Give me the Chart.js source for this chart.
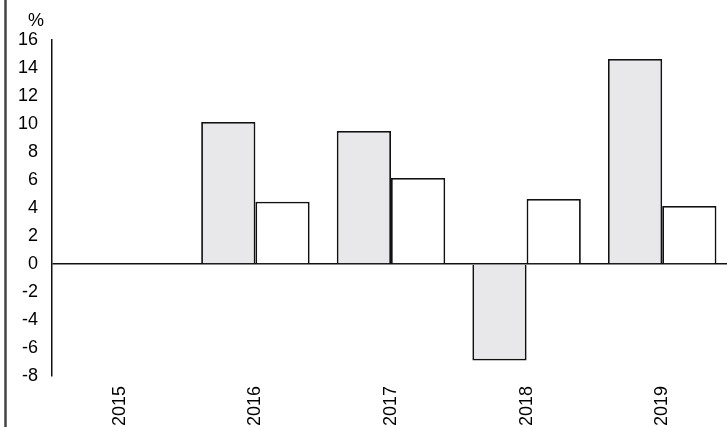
<!DOCTYPE html>
<html>
<head>
<meta charset="utf-8">
<script src="https://cdn.jsdelivr.net/npm/chart.js@4"></script>
<style>
  html, body { margin: 0; padding: 0; background: #fff; }
  #wrap { width: 727px; height: 427px; }
</style>
</head>
<body>
<div id="wrap"><canvas id="chart" width="727" height="427"></canvas></div>
<script>
const years = ['2015', '2016', '2017', '2018', '2019'];
const seriesGrey = [null, 10.15, 9.5, -6.9, 14.65];
const seriesWhite = [null, 4.45, 6.15, 4.65, 4.15];
const yTicks = [-8, -6, -4, -2, 0, 2, 4, 6, 8, 10, 12, 14, 16];
const unitLabel = '%';

const font = { family: 'Liberation Sans, Arial, sans-serif', size: 18 };

// frame line on the left and the unit text above the axis
const extras = {
  id: 'extras',
  afterLayout(chart) {
    // the category band runs a few px past the right edge of the canvas
    const x = chart.scales.x;
    x.right += 3;
    x.width += 3;
    x.configure();
  },
  afterDraw(chart) {
    const ctx = chart.ctx;
    ctx.save();
    ctx.strokeStyle = '#444';
    ctx.lineWidth = 2.5;
    ctx.beginPath();
    ctx.moveTo(5.5, 0);
    ctx.lineTo(5.5, chart.height);
    ctx.stroke();
    ctx.fillStyle = '#000';
    ctx.font = '18px Liberation Sans, Arial, sans-serif';
    ctx.textAlign = 'center';
    ctx.textBaseline = 'middle';
    ctx.fillText(unitLabel, 36, 21);
    ctx.restore();
  }
};

new Chart(document.getElementById('chart'), {
  type: 'bar',
  data: {
    labels: years,
    datasets: [
      {
        data: seriesGrey,
        backgroundColor: '#e8e8ea',
        borderColor: '#111',
        borderWidth: 1.8,
        categoryPercentage: 0.8,
        barPercentage: 1.0,
      },
      {
        data: seriesWhite,
        backgroundColor: '#fff',
        borderColor: '#111',
        borderWidth: 1.8,
        categoryPercentage: 0.8,
        barPercentage: 1.0,
      },
    ],
  },
  options: {
    responsive: false,
    animation: false,
    events: [],
    layout: { padding: { top: 40, left: 0, right: 0, bottom: 0 } },
    plugins: {
      legend: { display: false },
      tooltip: { enabled: false },
    },
    scales: {
      x: {
        grid: { display: false },
        border: { display: false },
        ticks: {
          color: '#000',
          font: font,
          minRotation: 90,
          maxRotation: 90,
          padding: 2,
        },
        afterFit(scale) { scale.height = 51; },
      },
      y: {
        min: -8,
        max: 16,
        afterBuildTicks(scale) { scale.ticks = yTicks.map((v) => ({ value: v })); },
        grid: {
          drawTicks: false,
          color: (c) => (c.tick && c.tick.value === 0 ? '#111' : 'rgba(0,0,0,0)'),
          lineWidth: 1.5,
        },
        border: { display: true, color: '#111', width: 1.5 },
        ticks: { color: '#000', font: font, padding: 14 },
        afterFit(scale) { scale.width = 52; },
      },
    },
  },
  plugins: [extras],
});
</script>
</body>
</html>
